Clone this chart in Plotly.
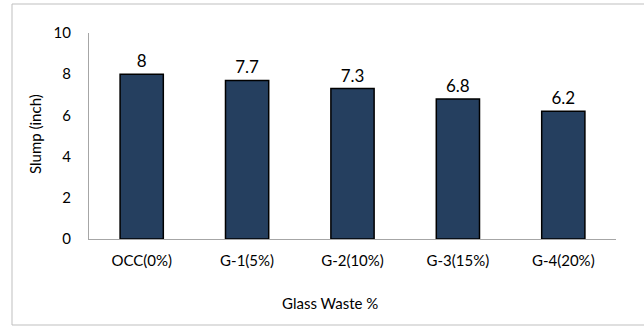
import plotly.graph_objects as go

# Slump of concrete mixes with increasing glass waste replacement
mixes = ["OCC(0%)", "G-1(5%)", "G-2(10%)", "G-3(15%)", "G-4(20%)"]
slump_in = [8, 7.7, 7.3, 6.8, 6.2]
y_ticks = [0, 2, 4, 6, 8, 10]

FONT = "Lato"
W, H = 644, 329
L, R, T, B = 89, 28, 33, 90
pw, ph = W - L - R, H - T - B


def px_x(x):
    return (x - L) / pw


def px_y(y):
    return (H - B - y) / ph


fig = go.Figure(
    go.Bar(
        x=mixes,
        y=slump_in,
        width=0.41,
        marker=dict(color="#253f5f", line=dict(color="#000000", width=1.5)),
        text=[f"{v:g}" for v in slump_in],
        textposition="outside",
        textfont=dict(family=FONT, size=17, color="#000000"),
        cliponaxis=False,
    )
)

fig.update_layout(
    width=W,
    height=H,
    margin=dict(l=L, r=R, t=T, b=B),
    paper_bgcolor="white",
    plot_bgcolor="white",
    showlegend=False,
    font=dict(family=FONT, size=15, color="#000000"),
    xaxis=dict(
        showline=True,
        linecolor="#a6a6a6",
        linewidth=1,
        ticks="",
        showgrid=False,
        tickfont=dict(family=FONT, size=15),
        ticklabelstandoff=8,
    ),
    yaxis=dict(
        range=[0, 10],
        tickvals=y_ticks,
        showline=True,
        linecolor="#a6a6a6",
        linewidth=1,
        ticks="",
        showgrid=False,
        zeroline=False,
        tickfont=dict(family=FONT, size=15),
        ticklabelstandoff=14,
    ),
    shapes=[
        dict(
            type="rect",
            xref="paper",
            yref="paper",
            x0=px_x(12),
            x1=px_x(652),
            y0=px_y(325),
            y1=px_y(4),
            line=dict(color="#bfbfbf", width=1),
            fillcolor="rgba(0,0,0,0)",
            layer="below",
        )
    ],
    annotations=[
        dict(
            text="Glass Waste %",
            xref="paper",
            yref="paper",
            x=px_x(330),
            y=px_y(303),
            showarrow=False,
            font=dict(family=FONT, size=15),
            xanchor="center",
            yanchor="middle",
        ),
        dict(
            text="Slump (inch)",
            xref="paper",
            yref="paper",
            x=px_x(35),
            y=px_y(134),
            textangle=-90,
            showarrow=False,
            font=dict(family=FONT, size=15),
            xanchor="center",
            yanchor="middle",
        ),
    ],
)

fig.write_html("out.html")
